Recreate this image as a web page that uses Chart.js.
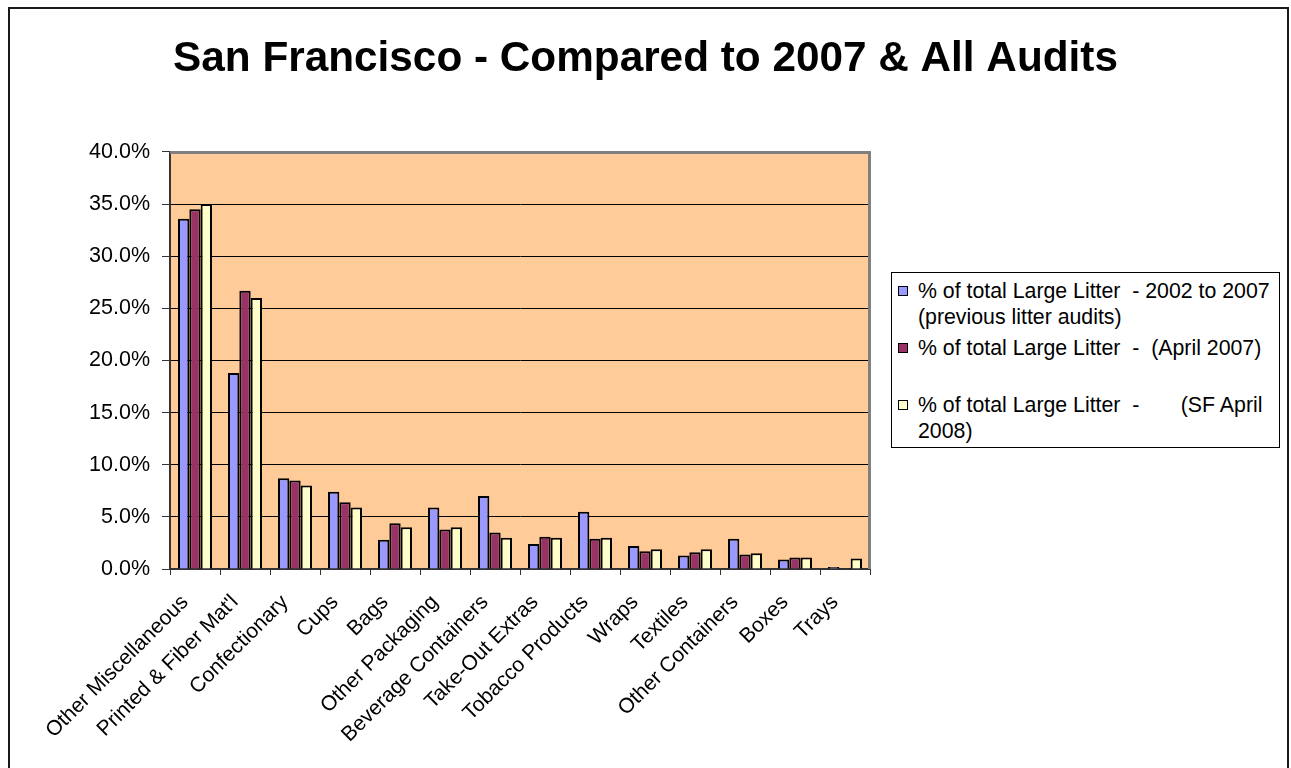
<!DOCTYPE html>
<html>
<head>
<meta charset="utf-8">
<script src="https://cdn.jsdelivr.net/npm/chart.js@4.4.1/dist/chart.umd.min.js"></script>
<style>
  html, body { margin: 0; padding: 0; background: #fff; }
  #wrap { position: relative; width: 1291px; height: 768px; overflow: hidden; }
  #c { position: absolute; left: 0; top: 0; }
  #legend { position: absolute; left: 891px; top: 272px; width: 389px; height: 176px;
            border: 1px solid #000; background: #fff; box-sizing: border-box;
            font-family: Arial, "Liberation Sans", sans-serif; font-size: 21.3px; color: #000; }
  .item { position: absolute; left: 0; }
  .mk { position: absolute; left: 6px; width: 8px; height: 8px; border: 1px solid #000; }
  .tx { position: absolute; left: 26px; white-space: pre; line-height: 26px; }
</style>
</head>
<body>
<div id="wrap">
  <canvas id="c" width="1291" height="768"></canvas>
  <div id="legend"></div>
</div>
<script>
const chartTitle = "San Francisco - Compared to 2007 & All Audits";
const categories = ["Other Miscellaneous", "Printed & Fiber Mat'l", "Confectionary", "Cups", "Bags",
  "Other Packaging", "Beverage Containers", "Take-Out Extras", "Tobacco Products", "Wraps",
  "Textiles", "Other Containers", "Boxes", "Trays"];
const seriesLabels = [
  "% of total Large Litter  - 2002 to 2007 (previous litter audits)",
  "% of total Large Litter  -  (April 2007)",
  "% of total Large Litter  -       (SF April 2008)"
];
const legendLines = [
  ["% of total Large Litter  - 2002 to 2007", "(previous litter audits)"],
  ["% of total Large Litter  -  (April 2007)"],
  ["% of total Large Litter  -       (SF April", "2008)"]
];
const prev2002to2007 = [33.6, 18.8, 8.7, 7.4, 2.8, 5.9, 7.0, 2.4, 5.5, 2.2, 1.3, 2.9, 0.9, 0.2];
const april2007      = [34.5, 26.7, 8.5, 6.4, 4.4, 3.8, 3.5, 3.1, 2.9, 1.7, 1.6, 1.4, 1.1, 0.1];
const sfApril2008    = [35.0, 26.0, 8.0, 5.9, 4.0, 4.0, 3.0, 3.0, 3.0, 1.9, 1.9, 1.5, 1.1, 1.0];
const yMin = 0, yMax = 40, yStep = 5;
const seriesColors = ["#9999FF", "#993366", "#FFFFCC"];

const FONT = 'Arial, "Liberation Sans", sans-serif';

const bgPlugin = {
  id: 'bgPlugin',
  beforeDraw(chart) {
    const ctx = chart.ctx, a = chart.chartArea;
    ctx.save();
    ctx.fillStyle = '#fff';
    ctx.fillRect(0, 0, chart.width, chart.height);
    ctx.strokeStyle = '#1a1a1a';
    ctx.lineWidth = 2;
    ctx.strokeRect(9, 8, 1279, 800);
    ctx.fillStyle = '#FFCC99';
    ctx.fillRect(a.left, a.top, a.right - a.left, a.bottom - a.top);
    ctx.restore();
  },
  afterDatasetsDraw(chart) {
    const ctx = chart.ctx, a = chart.chartArea;
    ctx.save();
    ctx.strokeStyle = '#808080';
    ctx.lineWidth = 3;
    ctx.beginPath();
    ctx.moveTo(a.left, a.top + 0.5);
    ctx.lineTo(a.right - 0.5, a.top + 0.5);
    ctx.lineTo(a.right - 0.5, a.bottom);
    ctx.stroke();
    ctx.restore();
  }
};

const datasets = [prev2002to2007, april2007, sfApril2008].map((d, i) => ({
  label: seriesLabels[i],
  data: d,
  yAxisID: 'y',
  backgroundColor: seriesColors[i],
  borderColor: '#000',
  borderWidth: 2,
  categoryPercentage: 0.68,
  barPercentage: 1.0
}));

const chart = new Chart(document.getElementById('c'), {
  type: 'bar',
  data: { labels: categories, datasets },
  plugins: [bgPlugin],
  options: {
    responsive: false,
    animation: false,
    devicePixelRatio: 1,
    layout: { padding: 0 },
    plugins: {
      legend: { display: false },
      tooltip: { enabled: false },
      title: {
        display: true,
        text: chartTitle,
        color: '#000',
        font: { family: FONT, size: 42.3, weight: 'bold', lineHeight: 1.2 },
        padding: { top: 34, bottom: 67.2 }
      }
    },
    scales: {
      x: {
        grid: { display: true, drawOnChartArea: false, drawTicks: true, tickLength: 6, color: '#333', tickColor: '#333', offset: true },
        border: { display: true, color: '#333', width: 2 },
        ticks: {
          autoSkip: false, maxRotation: 45, minRotation: 45,
          color: '#000', font: { family: FONT, size: 21 },
          padding: 15, labelOffset: -10
        },
        afterFit(scale) { scale.height = 199; }
      },
      y: {
        min: yMin, max: yMax,
        grid: {
          color: (c) => (c.tick && c.tick.value === yMax) ? 'rgba(0,0,0,0)' : '#000',
          lineWidth: 1, tickLength: 8, tickColor: '#333', drawTicks: true
        },
        border: { display: true, color: '#333', width: 2 },
        ticks: {
          stepSize: yStep, padding: 12, color: '#000',
          font: { family: FONT, size: 21.5 },
          callback: (v) => Number(v).toFixed(1) + '%'
        },
        afterFit(scale) { scale.width = 170; }
      },
      legendSpace: {
        type: 'linear', position: 'right', display: true,
        grid: { display: false, drawTicks: false }, border: { display: false },
        ticks: { display: false },
        afterFit(scale) { scale.width = 421; }
      }
    }
  }
});

// HTML legend built from the dataset colours
const legendTops = [277, 334, 391];
const lg = document.getElementById('legend');
legendLines.forEach((lines, i) => {
  const it = document.createElement('div');
  it.className = 'item';
  it.style.top = (legendTops[i] - 272) + 'px';
  const mk = document.createElement('div');
  mk.className = 'mk';
  mk.style.top = '8px';
  mk.style.background = chart.data.datasets[i].backgroundColor;
  const tx = document.createElement('div');
  tx.className = 'tx';
  tx.textContent = lines.join('\n');
  it.appendChild(mk); it.appendChild(tx);
  lg.appendChild(it);
});
</script>
</body>
</html>
